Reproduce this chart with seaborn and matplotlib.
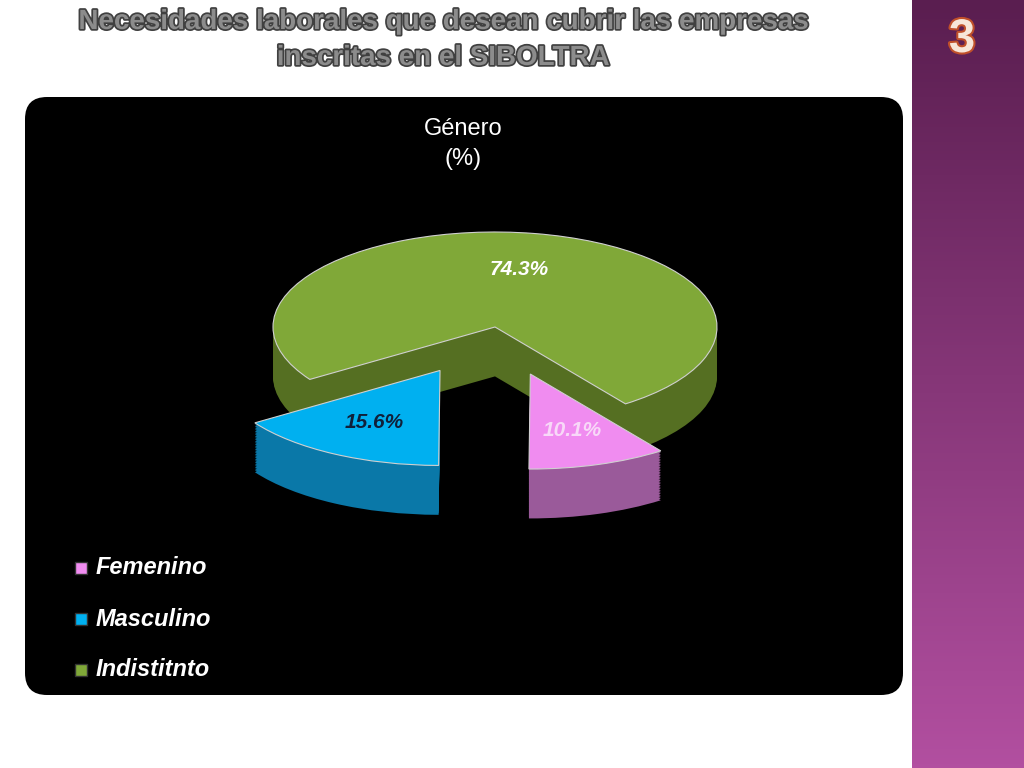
import matplotlib
matplotlib.use("Agg")
import matplotlib.pyplot as plt
import matplotlib.patheffects as pe
from matplotlib.patches import FancyBboxPatch, Rectangle
import numpy as np
import seaborn as sns

sns.set_theme(style="white")
plt.rcParams['font.family'] = ['Liberation Sans', 'DejaVu Sans']

categories = ["Femenino", "Masculino", "Indistitnto"]
values = [10.1, 15.6, 74.3]
top_colors = ["#F08CF0", "#00B0F0", "#80A838"]
side_colors = ["#9A5A9A", "#0A78A8", "#556F22"]
label_colors = ["#F8D8F8", "#10203A", "#FFFFFF"]

W, H = 1024, 768
fig = plt.figure(figsize=(W / 100, H / 100), dpi=100)
fig.patch.set_facecolor("white")

# background layer in pixel coords
bg = fig.add_axes([0, 0, 1, 1])
bg.set_xlim(0, W)
bg.set_ylim(H, 0)
bg.axis("off")
grad = np.linspace(0, 1, 256).reshape(-1, 1)
bg.imshow(grad, extent=(912, 1024, 768, 0), aspect="auto",
          cmap=matplotlib.colors.LinearSegmentedColormap.from_list("p", ["#5A1E50", "#B24FA0"]))
bg.add_patch(FancyBboxPatch((25, 97), 878, 598, boxstyle="round,pad=0,rounding_size=22",
                            facecolor="black", edgecolor="none"))
bg.text(962, 40, "3", fontsize=34, fontweight="bold", color="#F7E6D8", ha="center", va="center",
        path_effects=[pe.withStroke(linewidth=3, foreground="#C0502A")])
for y, t in [(22, "Necesidades laborales que desean cubrir las empresas"),
             (58, "inscritas en el SIBOLTRA")]:
    bg.text(443, y, t, fontsize=20, fontweight="bold", color="#8C8C8C", ha="center", va="center",
            path_effects=[pe.withStroke(linewidth=2.5, foreground="#404040")])
bg.text(463, 129, "Género", fontsize=17, color="white", ha="center", va="center")
bg.text(463, 159, "(%)", fontsize=17, color="white", ha="center", va="center")

# legend
for i, (c, col) in enumerate(zip(categories, top_colors)):
    y = 568 + i * 51
    bg.add_patch(Rectangle((75, y - 6), 12, 12, facecolor=col, edgecolor="#333333"))
    bg.text(96, y, c, fontsize=17, fontstyle="italic", fontweight="bold", color="white", va="center")

# pie axes: 222 px/unit horizontally, 95 px/unit vertically
cx, cy = 495, 327
sx, sy = 222, 95
ax = fig.add_axes([(cx - 1.4 * sx) / W, 1 - (cy + 2.6 * sy) / H, 2.8 * sx / W, 3.9 * sy / H])
ax.patch.set_alpha(0)
explode = [0.52, 0.52, 0.0]
for d in np.linspace(0.52, 0.02, 30):
    ax.pie(values, colors=side_colors, startangle=-54, counterclock=False,
           explode=explode, center=(0, -d), wedgeprops=dict(linewidth=0))
wedges, texts, autotexts = ax.pie(values, colors=top_colors, startangle=-54, counterclock=False,
                                  explode=explode, autopct="%.1f%%", pctdistance=0.62,
                                  wedgeprops=dict(linewidth=0.8, edgecolor="#D0D0D0"))
for t, col in zip(autotexts, label_colors):
    t.set_color(col)
    t.set_fontsize(15)
    t.set_fontstyle("italic")
    t.set_fontweight("bold")
ax.set_aspect("auto")
ax.set_xlim(-1.4, 1.4)
ax.set_ylim(-2.6, 1.3)
ax.axis("off")

fig.savefig("out.png", dpi=100, facecolor=fig.get_facecolor())
